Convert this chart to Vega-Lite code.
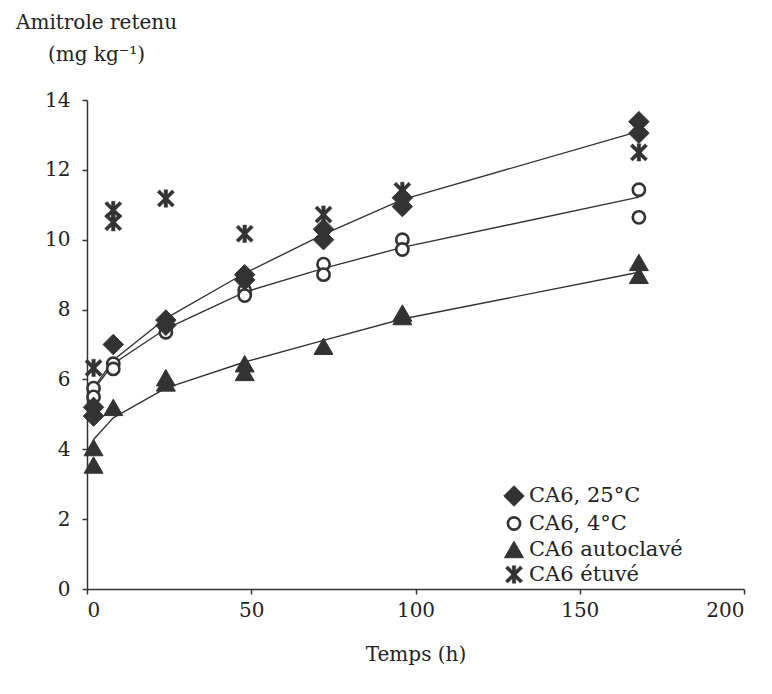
{
  "$schema": "https://vega.github.io/schema/vega-lite/v6.json",
  "autosize": {"type": "none"},
  "padding": {"left": 87, "top": 100, "right": 28, "bottom": 105},
  "width": 657,
  "height": 489,
  "background": "white",
  "config": {
    "view": {"stroke": null},
    "font": "DejaVu Serif",
    "axis": {
      "grid": false,
      "domainColor": "#333",
      "domainWidth": 1.5,
      "tickColor": "#333",
      "tickWidth": 1.5,
      "tickSize": 5,
      "labelFont": "DejaVu Serif",
      "labelFontSize": 20,
      "labelColor": "#222",
      "titleFont": "DejaVu Serif",
      "titleFontSize": 20,
      "titleFontWeight": "normal",
      "titleColor": "#222"
    },
    "legend": {
      "labelFont": "DejaVu Serif",
      "labelFontSize": 21,
      "labelColor": "#222"
    }
  },
  "datasets": {
    "points": [
      {"t": 2, "v": 6.33, "s": "CA6  étuvé"},
      {"t": 8, "v": 10.5, "s": "CA6  étuvé"},
      {"t": 8, "v": 10.85, "s": "CA6  étuvé"},
      {"t": 24, "v": 11.18, "s": "CA6  étuvé"},
      {"t": 48, "v": 10.17, "s": "CA6  étuvé"},
      {"t": 72, "v": 10.72, "s": "CA6  étuvé"},
      {"t": 96, "v": 11.4, "s": "CA6  étuvé"},
      {"t": 168, "v": 12.5, "s": "CA6  étuvé"},
      {"t": 2, "v": 4.05, "s": "CA6 autoclavé"},
      {"t": 2, "v": 3.55, "s": "CA6 autoclavé"},
      {"t": 8, "v": 5.2, "s": "CA6 autoclavé"},
      {"t": 24, "v": 6.05, "s": "CA6 autoclavé"},
      {"t": 24, "v": 5.9, "s": "CA6 autoclavé"},
      {"t": 48, "v": 6.45, "s": "CA6 autoclavé"},
      {"t": 48, "v": 6.2, "s": "CA6 autoclavé"},
      {"t": 72, "v": 6.95, "s": "CA6 autoclavé"},
      {"t": 96, "v": 7.9, "s": "CA6 autoclavé"},
      {"t": 96, "v": 7.8, "s": "CA6 autoclavé"},
      {"t": 168, "v": 9.35, "s": "CA6 autoclavé"},
      {"t": 168, "v": 8.98, "s": "CA6 autoclavé"},
      {"t": 2, "v": 5.75, "s": "CA6, 4°C"},
      {"t": 2, "v": 5.5, "s": "CA6, 4°C"},
      {"t": 8, "v": 6.45, "s": "CA6, 4°C"},
      {"t": 8, "v": 6.3, "s": "CA6, 4°C"},
      {"t": 24, "v": 7.5, "s": "CA6, 4°C"},
      {"t": 24, "v": 7.35, "s": "CA6, 4°C"},
      {"t": 48, "v": 8.55, "s": "CA6, 4°C"},
      {"t": 48, "v": 8.4, "s": "CA6, 4°C"},
      {"t": 72, "v": 9.3, "s": "CA6, 4°C"},
      {"t": 72, "v": 9.0, "s": "CA6, 4°C"},
      {"t": 96, "v": 10.0, "s": "CA6, 4°C"},
      {"t": 96, "v": 9.72, "s": "CA6, 4°C"},
      {"t": 168, "v": 11.43, "s": "CA6, 4°C"},
      {"t": 168, "v": 10.64, "s": "CA6, 4°C"},
      {"t": 2, "v": 5.2, "s": "CA6, 25°C"},
      {"t": 2, "v": 4.95, "s": "CA6, 25°C"},
      {"t": 8, "v": 7.0, "s": "CA6, 25°C"},
      {"t": 24, "v": 7.7, "s": "CA6, 25°C"},
      {"t": 24, "v": 7.55, "s": "CA6, 25°C"},
      {"t": 48, "v": 9.0, "s": "CA6, 25°C"},
      {"t": 48, "v": 8.85, "s": "CA6, 25°C"},
      {"t": 72, "v": 10.3, "s": "CA6, 25°C"},
      {"t": 72, "v": 10.0, "s": "CA6, 25°C"},
      {"t": 96, "v": 11.2, "s": "CA6, 25°C"},
      {"t": 96, "v": 10.95, "s": "CA6, 25°C"},
      {"t": 168, "v": 13.38, "s": "CA6, 25°C"},
      {"t": 168, "v": 13.05, "s": "CA6, 25°C"}
    ],
    "fits": [
      {"t": 2, "v": 5.75, "s": "CA6, 25°C"},
      {"t": 8, "v": 6.55, "s": "CA6, 25°C"},
      {"t": 24, "v": 7.75, "s": "CA6, 25°C"},
      {"t": 48, "v": 9.04, "s": "CA6, 25°C"},
      {"t": 72, "v": 10.15, "s": "CA6, 25°C"},
      {"t": 96, "v": 11.15, "s": "CA6, 25°C"},
      {"t": 168, "v": 13.1, "s": "CA6, 25°C"},
      {"t": 2, "v": 5.7, "s": "CA6, 4°C"},
      {"t": 8, "v": 6.45, "s": "CA6, 4°C"},
      {"t": 24, "v": 7.45, "s": "CA6, 4°C"},
      {"t": 48, "v": 8.5, "s": "CA6, 4°C"},
      {"t": 72, "v": 9.18, "s": "CA6, 4°C"},
      {"t": 96, "v": 9.78, "s": "CA6, 4°C"},
      {"t": 168, "v": 11.22, "s": "CA6, 4°C"},
      {"t": 2, "v": 4.28, "s": "CA6 autoclavé"},
      {"t": 8, "v": 4.9, "s": "CA6 autoclavé"},
      {"t": 24, "v": 5.75, "s": "CA6 autoclavé"},
      {"t": 48, "v": 6.5, "s": "CA6 autoclavé"},
      {"t": 72, "v": 7.12, "s": "CA6 autoclavé"},
      {"t": 96, "v": 7.73, "s": "CA6 autoclavé"},
      {"t": 168, "v": 9.07, "s": "CA6 autoclavé"}
    ]
  },
  "layer": [
    {
      "data": {"name": "fits"},
      "mark": {"type": "line", "color": "#333", "strokeWidth": 1.4},
      "encoding": {
        "x": {"field": "t", "type": "quantitative", "scale": {"domain": [0, 200], "nice": false},
          "axis": {"values": [0, 50, 100, 150, 200], "title": "Temps (h)", "labelPadding": 6, "titlePadding": 24}},
        "y": {"field": "v", "type": "quantitative", "scale": {"domain": [0, 14], "nice": false},
          "axis": {"values": [0, 2, 4, 6, 8, 10, 12, 14], "labelPadding": 12,
            "title": ["Amitrole retenu", "(mg kg⁻¹)"], "titleAngle": 0, "titleAlign": "center",
            "titleBaseline": "alphabetic", "titleX": 9, "titleY": -72, "titleLineHeight": 32}},
        "detail": {"field": "s"}
      }
    },
    {
      "data": {"name": "points"},
      "mark": {"type": "point", "filled": true, "stroke": "#333", "opacity": 1},
      "encoding": {
        "x": {"field": "t", "type": "quantitative"},
        "y": {"field": "v", "type": "quantitative"},
        "shape": {"field": "s", "type": "nominal",
          "scale": {"domain": ["CA6, 25°C", "CA6, 4°C", "CA6 autoclavé", "CA6  étuvé"],
            "range": ["diamond", "circle", "triangle-up", "M-0.2,-1L0.2,-1L0.2,1L-0.2,1ZM-0.72,-0.99L0.99,0.72L0.72,0.99L-0.99,-0.72ZM0.99,-0.72L-0.72,0.99L-0.99,0.72L0.72,-0.99Z"]},
          "legend": {"title": null, "orient": "none", "legendX": 416, "legendY": 385, "rowPadding": 3, "labelOffset": 4, "padding": 0}},
        "fill": {"field": "s", "type": "nominal",
          "scale": {"domain": ["CA6, 25°C", "CA6, 4°C", "CA6 autoclavé", "CA6  étuvé"],
            "range": ["#333", "white", "#333", "#333"]}},
        "strokeWidth": {"field": "s", "type": "nominal",
          "scale": {"type": "ordinal", "domain": ["CA6, 25°C", "CA6, 4°C", "CA6 autoclavé", "CA6  étuvé"],
            "range": [1, 2.6, 1, 0.5]}},
        "size": {"field": "s", "type": "nominal",
          "scale": {"type": "ordinal", "domain": ["CA6, 25°C", "CA6, 4°C", "CA6 autoclavé", "CA6  étuvé"],
            "range": [420, 150, 360, 300]}}
      }
    }
  ]
}
